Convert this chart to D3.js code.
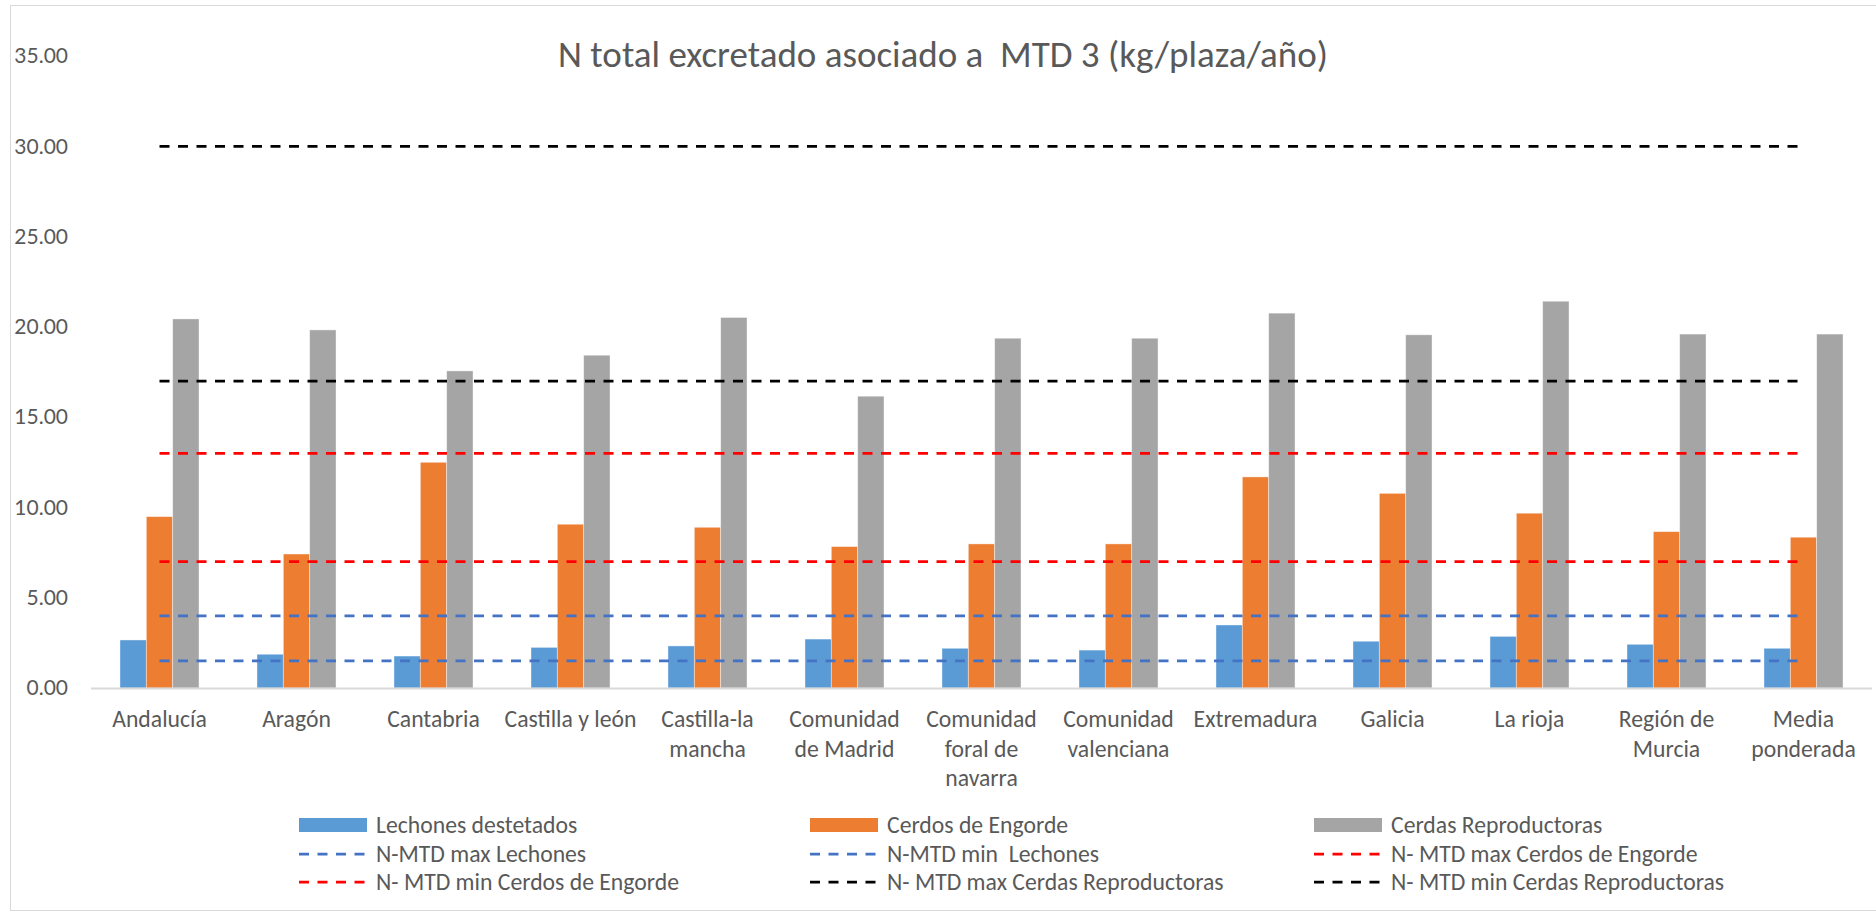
<!DOCTYPE html>
<html>
<head>
<meta charset="utf-8">
<script src="https://cdn.jsdelivr.net/npm/d3@7"></script>
<style>
  body { margin: 0; background: #fff; }
  text { font-family: Carlito, Calibri, Lato, sans-serif; fill: #595959; white-space: pre; }
</style>
</head>
<body>
<svg id="chart"></svg>
<script>
const width = 1876;
const height = 913;

// Data
const categories = ["Andalucía", "Aragón", "Cantabria", "Castilla y león", "Castilla-la mancha",
    "Comunidad de Madrid", "Comunidad foral de navarra", "Comunidad valenciana", "Extremadura",
    "Galicia", "La rioja", "Región de Murcia", "Media ponderada"];
const lechones = [2.66, 1.87, 1.77, 2.25, 2.33, 2.71, 2.20, 2.10, 3.49, 2.59, 2.86, 2.42, 2.20];
const cerdosEngorde = [9.49, 7.42, 12.50, 9.07, 8.90, 7.83, 7.98, 7.98, 11.69, 10.78, 9.68, 8.66, 8.35];
const cerdasReproductoras = [20.44, 19.83, 17.56, 18.43, 20.52, 16.16, 19.37, 19.37, 20.76, 19.56, 21.42, 19.60, 19.60];
const barSeries = ["Lechones destetados", "Cerdos de Engorde", "Cerdas Reproductoras"];
const lineSeries = ["N-MTD max Lechones", "N-MTD min  Lechones", "N- MTD max Cerdos de Engorde",
    "N- MTD min Cerdos de Engorde", "N- MTD max Cerdas Reproductoras", "N- MTD min Cerdas Reproductoras"];
const lineValues = [4, 1.5, 13, 7, 30, 17];
const yTicks = [0, 5, 10, 15, 20, 25, 30, 35];
const title = "N total excretado asociado a  MTD 3 (kg/plaza/año)";

// Colours
const barColors = ["#5B9BD5", "#ED7D31", "#A5A5A5"];
const lineColors = ["#4472C4", "#4472C4", "#FF0000", "#FF0000", "#000000", "#000000"];

const margin = { top: 56, right: 4, bottom: 225, left: 91 };
const innerW = width - margin.left - margin.right;
const innerH = height - margin.top - margin.bottom;

const svg = d3.select("#chart")
    .attr("width", width)
    .attr("height", height);

// chart border
svg.append("rect")
    .attr("x", 10.5).attr("y", 5.5)
    .attr("width", width).attr("height", height - 8)
    .attr("fill", "none").attr("stroke", "#D9D9D9").attr("stroke-width", 1);

svg.append("text")
    .attr("x", 943).attr("y", 67)
    .attr("text-anchor", "middle")
    .style("font-size", "37px")
    .text(title);

const g = svg.append("g").attr("transform", `translate(${margin.left},${margin.top})`);

const x = d3.scaleBand()
    .domain(categories)
    .range([0, innerW])
    .paddingInner(0.423)
    .paddingOuter(0.2115);

const xs = d3.scaleBand()
    .domain(barSeries)
    .range([0, x.bandwidth()]);

const y = d3.scaleLinear()
    .domain([0, 35])
    .range([innerH, 0]);

// y axis labels
const yAxis = g.append("g")
    .call(d3.axisLeft(y).tickValues(yTicks).tickFormat(d3.format(".2f")).tickSize(0).tickPadding(23));
yAxis.select(".domain").remove();
yAxis.selectAll("text")
    .attr("fill", "#595959")
    .style("font-size", "21px")
    .style("font-family", "Lato, sans-serif");

// bars
const barData = [lechones, cerdosEngorde, cerdasReproductoras];
barSeries.forEach((name, si) => {
    g.append("g")
        .selectAll("rect")
        .data(categories)
        .enter()
        .append("rect")
        .attr("x", d => x(d) + xs(name))
        .attr("y", (d, i) => y(barData[si][i]))
        .attr("width", xs.bandwidth())
        .attr("height", (d, i) => innerH - y(barData[si][i]))
        .attr("fill", barColors[si])
        .attr("stroke", "#fff")
        .attr("stroke-opacity", 0.5)
        .attr("stroke-width", 0.8);
});

// x axis baseline
g.append("line")
    .attr("x1", 0).attr("x2", innerW)
    .attr("y1", innerH + 0.5).attr("y2", innerH + 0.5)
    .attr("stroke", "#D9D9D9").attr("stroke-width", 2);

// reference lines
const line = d3.line()
    .x(d => x(d.cat) + x.bandwidth() / 2)
    .y(d => y(d.v));

lineSeries.forEach((name, li) => {
    g.append("path")
        .datum(categories.map(c => ({ cat: c, v: lineValues[li] })))
        .attr("d", line)
        .attr("fill", "none")
        .attr("stroke", lineColors[li])
        .attr("stroke-width", 2.75)
        .attr("stroke-dasharray", "10,8.5");
});

// category labels, wrapped to the category width
const labelSize = 23.7;
const lineH = 29.5;
const labels = g.append("g").selectAll("text")
    .data(categories)
    .enter()
    .append("text")
    .attr("text-anchor", "middle")
    .attr("transform", d => `translate(${x(d) + x.bandwidth() / 2},${innerH + 39})`)
    .style("font-size", labelSize + "px");

labels.each(function(d) {
    const t = d3.select(this);
    const words = d.split(" ");
    let lines = [], cur = "";
    words.forEach(w => {
        const test = cur ? cur + " " + w : w;
        t.text(test);
        if (cur && this.getComputedTextLength() > x.step()) {
            lines.push(cur);
            cur = w;
        } else {
            cur = test;
        }
    });
    lines.push(cur);
    t.text(null);
    lines.forEach((l, i) => {
        t.append("tspan").attr("x", 0).attr("dy", i === 0 ? 0 : lineH).text(l);
    });
});

// legend
const legendItems = barSeries.map((n, i) => ({ name: n, type: "bar", color: barColors[i] }))
    .concat(lineSeries.map((n, i) => ({ name: n, type: "line", color: lineColors[i] })));
const legendX = [299, 810, 1314];
const legendY = [825, 854, 882];

const legend = svg.append("g")
    .selectAll("g")
    .data(legendItems)
    .enter()
    .append("g")
    .attr("transform", (d, i) => `translate(${legendX[i % 3]},${legendY[Math.floor(i / 3)]})`);

legend.filter(d => d.type === "bar")
    .append("rect")
    .attr("x", 0).attr("y", -7)
    .attr("width", 68).attr("height", 14)
    .attr("fill", d => d.color);

legend.filter(d => d.type === "line")
    .append("line")
    .attr("x1", 0).attr("x2", 68)
    .attr("y1", 0).attr("y2", 0)
    .attr("stroke", d => d.color)
    .attr("stroke-width", 2.75)
    .attr("stroke-dasharray", "10,8.5");

legend.append("text")
    .attr("x", 77)
    .attr("y", 0)
    .attr("dy", "0.35em")
    .style("font-size", labelSize + "px")
    .text(d => d.name);
</script>
</body>
</html>
